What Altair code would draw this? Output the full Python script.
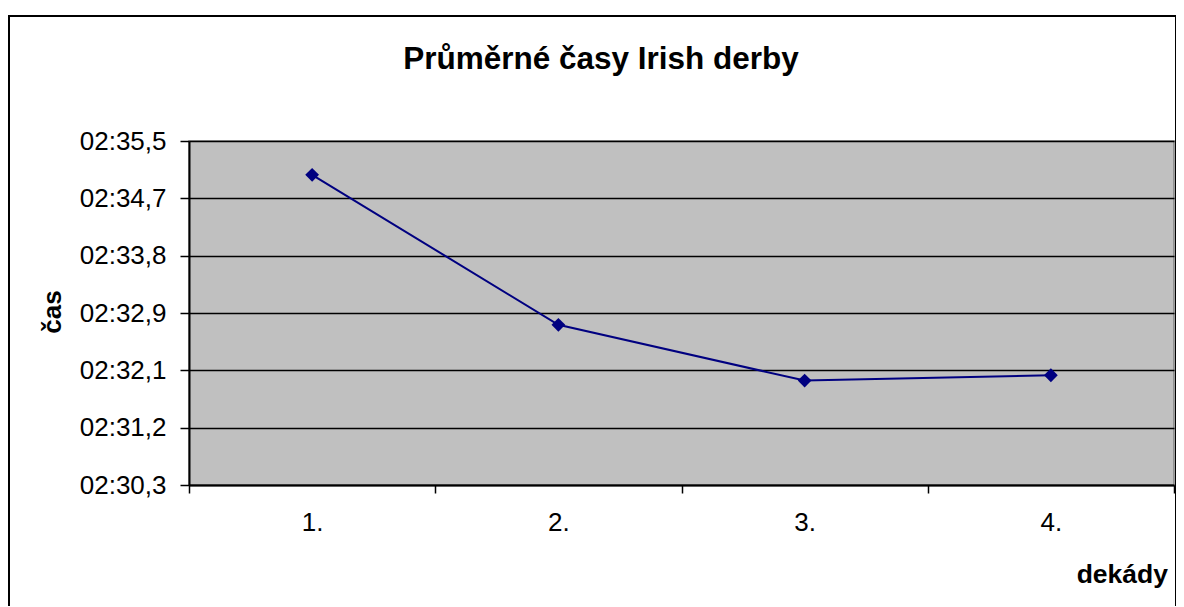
import altair as alt
import pandas as pd

# data
dekady = ["1.", "2.", "3.", "4."]
casy_s = [155.01, 152.75, 151.91, 151.99]  # average time in seconds (02:35,0 etc.)
y_ticks = [150.336, 151.2, 152.064, 152.928, 153.792, 154.656, 155.52]
title_text = "Průměrné časy Irish derby"
x_title = "dekády"
y_title = "čas"

df = pd.DataFrame({"dekada": dekady, "cas": casy_s})

FONT = "Liberation Sans"
W, H = 985, 344

x_enc = alt.X(
    "dekada:N",
    sort=dekady,
    scale=alt.Scale(type="band", paddingInner=0, paddingOuter=0),
    axis=alt.Axis(
        title=None, labelAngle=0, tickBand="extent", grid=False,
        domainColor="black", domainWidth=2, tickColor="black", tickWidth=1.5,
        tickSize=8, labelFont=FONT, labelFontSize=26, labelColor="black",
        labelPadding=16,
    ),
)
y_enc = alt.Y(
    "cas:Q",
    scale=alt.Scale(domain=[y_ticks[0], y_ticks[-1]], nice=False, zero=False),
    axis=alt.Axis(
        title=None, values=y_ticks,
        labelExpr="'02:' + replace(format(datum.value - 120, '.1f'), '.', ',')",
        grid=True, gridColor="black", gridWidth=1.5,
        domainColor="black", domainWidth=2, tickColor="black", tickWidth=1.5,
        tickSize=9, labelFont=FONT, labelFontSize=26, labelColor="black",
        labelPadding=14,
    ),
)

base = alt.Chart(df)
line = base.mark_line(color="#000080", strokeWidth=2).encode(x=x_enc, y=y_enc)
pts = base.mark_point(shape="diamond", filled=True, size=190, color="#000080", opacity=1).encode(
    x="dekada:N", y="cas:Q"
)

one = pd.DataFrame({"a": [0]})
box = alt.Chart(one).mark_rect(fill=None, stroke="black", strokeWidth=2, clip=False).encode(
    x=alt.value(-180), x2=alt.value(W + 2), y=alt.value(-125), y2=alt.value(472)
)
title = alt.Chart(one).mark_text(
    font=FONT, fontSize=31.5, fontWeight="bold", align="center", baseline="alphabetic", color="black"
).encode(x=alt.value(412), y=alt.value(-72), text=alt.value(title_text))
xt = alt.Chart(one).mark_text(
    font=FONT, fontSize=26.5, fontWeight="bold", align="right", baseline="alphabetic", color="black"
).encode(x=alt.value(979), y=alt.value(442), text=alt.value(x_title))
yt = alt.Chart(one).mark_text(
    font=FONT, fontSize=26, fontWeight="bold", align="center", baseline="middle", angle=270, color="black"
).encode(x=alt.value(-136), y=alt.value(171), text=alt.value(y_title))

chart = alt.layer(line, pts, box, title, xt, yt).properties(
    width=W, height=H,
    autosize=alt.AutoSizeParams(type="none"),
    padding={"left": 181, "top": 133, "right": 2, "bottom": 121},
    background="white",
).configure_view(
    fill="#C0C0C0", stroke="#808080", strokeWidth=1.5
)

chart.save("out.html", embed_options={"renderer": "svg", "actions": False})
